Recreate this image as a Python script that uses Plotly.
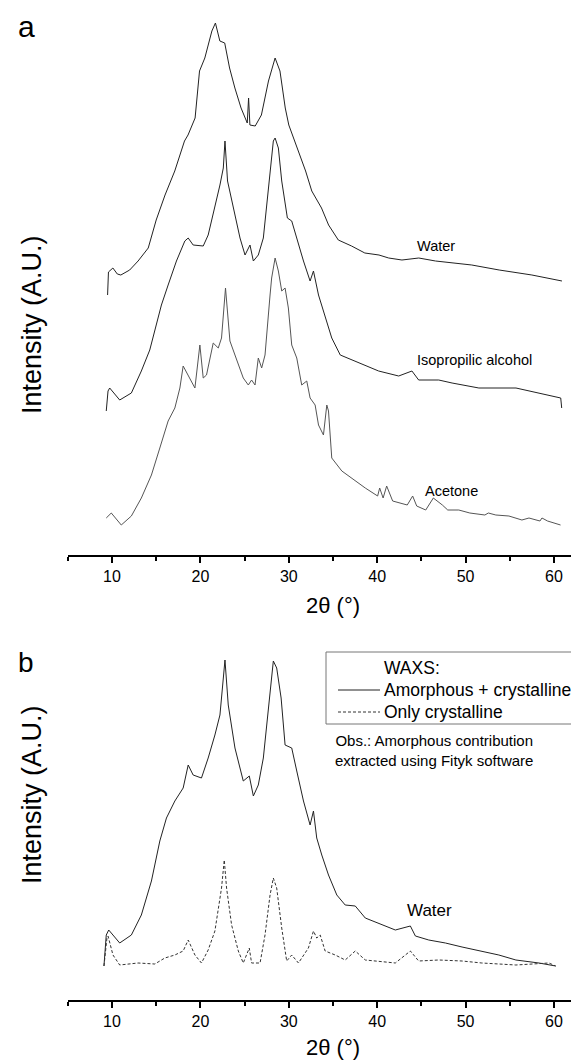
import plotly.graph_objects as go

# ---------------- Panel a data (2theta in degrees, intensity in A.U.) ----------------
water_x = [9.5, 9.6, 10.1, 10.6, 11.0, 12.0, 12.95, 14.1, 15.0, 16.0,
           17.1, 18.2, 18.6, 19.4, 19.9, 20.5, 21.3, 21.7, 22.2, 22.75,
           23.3, 23.9, 24.6, 25.3, 25.45, 25.6, 26.2, 26.9, 27.7, 28.45,
           29.0, 29.6, 30.0, 30.6, 31.3, 31.9, 32.6, 33.7, 34.5, 35.6,
           37.1, 38.6, 40.2, 41.3, 42.8, 44.7, 46.6, 48.5, 50.7, 53.8,
           57.5, 60.9]
water_y = [260, 283, 287, 281, 280, 285, 294, 307, 335, 360,
           384, 414, 420, 437, 484, 497, 524, 532, 514, 512,
           487, 467, 447, 432, 457, 430, 429, 440, 474, 497,
           484, 447, 430, 415, 397, 384, 364, 347, 330, 315,
           309, 302, 300, 297, 295, 297, 294, 292, 290, 285,
           280, 274]

iso_x = [9.35, 9.55, 9.74, 10.87, 12.19, 13.32, 14.27, 15.02, 15.59, 16.35,
         17.29, 18.24, 18.62, 19.18, 20.32, 20.88, 21.64, 22.21, 22.59, 22.78,
         23.07, 23.72, 24.48, 25.05, 25.61, 25.99, 26.55, 27.12, 27.88, 28.25,
         28.45, 28.82, 29.2, 29.84, 30.33, 31.09, 31.66, 32.41, 32.79, 33.36,
         33.92, 34.86, 35.82, 37.13, 38.65, 40.16, 42.43, 43.93, 44.69, 46.96,
         48.47, 51.5, 55.7, 59.4, 60.76, 60.87]
iso_y = [144, 164, 167, 155, 162, 184, 205, 230, 250, 270,
         294, 314, 317, 310, 309, 320, 347, 370, 387, 414,
         374, 347, 317, 300, 310, 294, 300, 317, 380, 414,
         417, 407, 374, 337, 334, 310, 294, 274, 284, 260,
         244, 217, 200, 195, 189, 184, 179, 184, 175, 175,
         172, 167, 167, 160, 157, 147]

acetone_x = [9.35, 9.92, 11.05, 12.19, 13.32, 14.46, 15.41, 16.35, 17.11, 17.68,
             18.05, 18.62, 19.38, 19.94, 20.32, 20.69, 21.45, 22.02, 22.39, 22.84,
             23.34, 23.91, 24.85, 25.42, 25.79, 26.18, 26.55, 26.93, 27.31, 27.88,
             28.06, 28.45, 28.82, 29.2, 29.58, 29.95, 30.33, 30.9, 31.46, 32.03,
             32.41, 32.98, 33.36, 33.92, 34.3, 34.49, 34.68, 34.86, 36.0, 37.52,
             38.65, 40.05, 40.28, 40.67, 41.07, 41.75, 43.4, 44.01, 44.47, 45.49,
             46.35, 47.37, 47.98, 49.23, 50.48, 52.18, 52.57, 53.42, 54.9, 56.37,
             57.17, 58.41, 58.64, 59.27, 60.74]
acetone_y = [37, 42, 30, 39, 57, 80, 107, 134, 147, 167,
             189, 180, 167, 210, 177, 180, 212, 207, 217, 267,
             214, 200, 177, 170, 175, 170, 197, 187, 200, 260,
             277, 297, 284, 264, 267, 247, 210, 197, 170, 174,
             157, 150, 130, 120, 150, 144, 114, 97, 84, 74,
             67, 59, 67, 57, 69, 54, 50, 59, 49, 45,
             57, 50, 45, 45, 42, 40, 42, 40, 39, 35,
             37, 34, 37, 34, 30]

# ---------------- Panel b data ----------------
total_x = [9.09, 9.35, 9.63, 10.87, 12.19, 13.32, 14.46, 15.41, 16.16, 17.11,
           18.05, 18.62, 19.18, 20.12, 20.88, 21.64, 22.21, 22.59, 22.78, 23.15,
           23.91, 24.85, 25.53, 25.99, 26.55, 27.12, 27.88, 28.25, 28.63, 29.13,
           29.58, 30.33, 30.9, 31.66, 32.41, 32.79, 33.16, 33.73, 34.49, 35.43,
           36.38, 37.52, 38.65, 40.16, 42.05, 43.75, 44.32, 45.83, 47.72, 49.6,
           51.5, 53.76, 55.69, 58.3, 60.19]
total_y = [34, 65, 70, 57, 65, 85, 119, 159, 182, 199,
           212, 235, 225, 222, 242, 265, 285, 319, 340, 295,
           252, 219, 224, 204, 215, 242, 312, 339, 332, 302,
           255, 252, 229, 199, 175, 189, 162, 145, 125, 105,
           95, 94, 82, 77, 70, 74, 64, 60, 57, 53,
           49, 45, 40, 37, 34]

cryst_x = [9.09, 9.43, 9.55, 10.11, 10.87, 12.95, 14.84, 15.98, 17.11, 18.05,
           18.62, 19.38, 20.12, 20.88, 21.64, 22.02, 22.39, 22.7, 22.96, 23.53,
           24.29, 24.85, 25.53, 25.79, 26.75, 27.31, 27.88, 28.25, 28.63, 29.2,
           29.76, 30.33, 31.09, 32.22, 32.79, 33.16, 33.55, 34.11, 35.25, 36.38,
           37.52, 38.65, 40.16, 42.05, 43.75, 44.69, 46.96, 49.6, 51.84, 55.69,
           59.43, 60.19]
cryst_y = [34, 62, 64, 45, 35, 37, 36, 42, 45, 49,
           60, 45, 37, 50, 69, 89, 112, 140, 112, 75,
           49, 37, 52, 37, 37, 65, 105, 122, 112, 72,
           39, 45, 37, 52, 69, 62, 65, 49, 45, 40,
           49, 40, 39, 37, 49, 39, 40, 39, 37, 35,
           37, 34]

x_ticks = [10, 20, 30, 40, 50, 60]
x_minor_ticks = [5, 15, 25, 35, 45, 55]
legend_title = "WAXS:"
legend_names = ["Amorphous + crystalline", "Only crystalline"]

FONT = "Liberation Sans, Arial, Helvetica, sans-serif"
W, H = 579, 1061
DARK = "#222222"
DASH = "3px,2px"

fig = go.Figure()
fig.add_trace(go.Scatter(x=water_x, y=water_y, mode="lines", xaxis="x", yaxis="y",
                         line=dict(color=DARK, width=1), showlegend=False))
fig.add_trace(go.Scatter(x=iso_x, y=iso_y, mode="lines", xaxis="x", yaxis="y",
                         line=dict(color=DARK, width=1), showlegend=False))
fig.add_trace(go.Scatter(x=acetone_x, y=acetone_y, mode="lines", xaxis="x", yaxis="y",
                         line=dict(color="#555555", width=1), showlegend=False))
fig.add_trace(go.Scatter(x=total_x, y=total_y, mode="lines", xaxis="x2", yaxis="y2",
                         name=legend_names[0], showlegend=False,
                         line=dict(color=DARK, width=1)))
fig.add_trace(go.Scatter(x=cryst_x, y=cryst_y, mode="lines", xaxis="x2", yaxis="y2",
                         name=legend_names[1], showlegend=False,
                         line=dict(color="#333333", width=1, dash=DASH)))

x0_px = 59.8
px_per_deg = 8.84
x_range = [5, 5 + (W - x0_px) / px_per_deg]

xaxis_common = dict(
    range=x_range, domain=[x0_px / W, 1],
    showline=True, linecolor="black", linewidth=2,
    ticks="outside", ticklen=6, tickwidth=1.5, tickcolor="black",
    tickmode="array", tickvals=x_ticks,
    tickfont=dict(family=FONT, size=16, color="black"),
    showgrid=False, zeroline=False,
    minor=dict(ticks="outside", ticklen=3.5, tickwidth=1.5, tickcolor="black",
               tickmode="array", tickvals=x_minor_ticks, showgrid=False),
)

a_bottom, a_top = 547, 0
b_bottom, b_top = 992, 640

fig.update_layout(
    width=W, height=H,
    margin=dict(l=0, r=0, t=0, b=0),
    paper_bgcolor="white", plot_bgcolor="white",
    font=dict(family=FONT, color="black"),
    showlegend=False,
    xaxis=dict(anchor="y", **xaxis_common),
    yaxis=dict(domain=[1 - a_bottom / H, 1 - a_top / H], range=[0, a_bottom - a_top],
               visible=False, anchor="x"),
    xaxis2=dict(anchor="y2", **xaxis_common),
    yaxis2=dict(domain=[1 - b_bottom / H, 1 - b_top / H], range=[0, b_bottom - b_top],
                visible=False, anchor="x2"),
)

def px(x):
    return x / W

def py(y):
    return 1 - y / H

def ann(text, x, y, size, angle=0, xanchor="center"):
    fig.add_annotation(text=text, x=px(x), y=py(y), xref="paper", yref="paper",
                       showarrow=False, xanchor=xanchor, yanchor="middle",
                       textangle=angle, borderpad=0,
                       font=dict(family=FONT, size=size, color="black"))

# legend box (panel b)
fig.add_shape(type="rect", xref="paper", yref="paper",
              x0=px(318), x1=px(581), y0=py(716), y1=py(644),
              line=dict(color="#777777", width=1), fillcolor="rgba(0,0,0,0)")
fig.add_shape(type="line", xref="paper", yref="paper",
              x0=px(330), x1=px(372), y0=py(682), y1=py(682),
              line=dict(color=DARK, width=1))
fig.add_shape(type="line", xref="paper", yref="paper",
              x0=px(330), x1=px(372), y0=py(704), y1=py(704),
              line=dict(color="#333333", width=1, dash=DASH))
ann(legend_title, 375, 660, 17.5, xanchor="left")
ann(legend_names[0], 375, 682, 17.5, xanchor="left")
ann(legend_names[1], 375, 704, 17.5, xanchor="left")

ann("a", 18, 18, 30)
ann("b", 18, 654, 28)
ann("Intensity (A.U.)", 24, 317, 27, angle=-90)
ann("Intensity (A.U.)", 24, 787, 27, angle=-90)
ann("2\u03b8 (°)", 325, 597, 22)
ann("2\u03b8 (°)", 325, 1039, 22)
ann("Water", 428, 238, 14.5)
ann("Isopropilic alcohol", 466, 352, 14.5)
ann("Acetone", 443, 483, 14.5)
ann("Water", 421, 902, 17)
ann("Obs.: Amorphous contribution<br>extracted using Fityk software", 326, 742, 15, xanchor="left")

fig.write_html("out.html")
